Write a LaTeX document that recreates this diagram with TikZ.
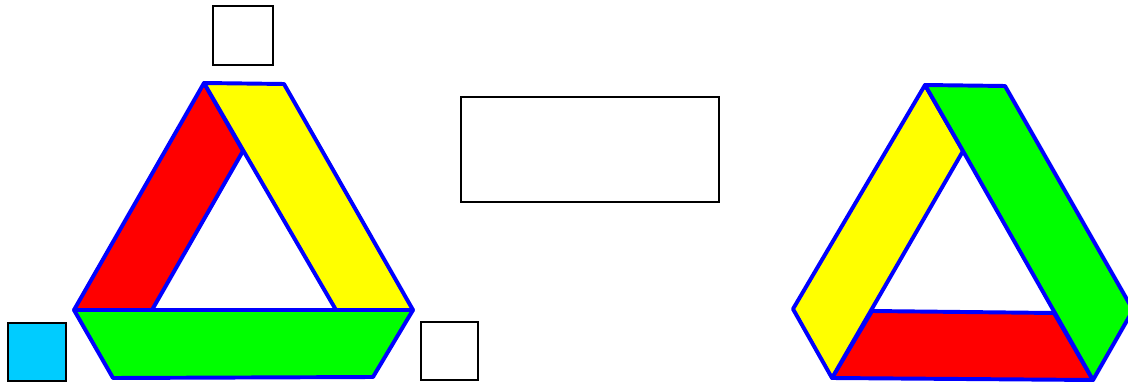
\documentclass[tikz,border=0pt]{standalone}
\usetikzlibrary{math}
\definecolor{rim}{RGB}{0,0,255}
\definecolor{skyfill}{RGB}{0,204,255}
\definecolor{redfill}{RGB}{255,0,0}
\definecolor{yellowfill}{RGB}{255,255,0}
\definecolor{greenfill}{RGB}{0,255,0}
\tikzset{
  band/.style={draw=rim,line width=2.8pt,line join=round},
  box/.style={draw=black,line width=1.4pt,inner sep=0pt}
}
\begin{document}
\begin{tikzpicture}[x=0.025cm,y=-0.025cm]
\useasboundingbox (0,0) rectangle (1128,385);

%left triangle
\coordinate (L1) at (204,83);
\coordinate (L2) at (284,84);
\coordinate (L3) at (413,310);
\coordinate (L4) at (336,310);
\coordinate (L5) at (243,151);
\coordinate (L6) at (152,310);
\coordinate (L7) at (74,310);
\coordinate (L8) at (373,377);
\coordinate (L9) at (113,378);

\filldraw[band,fill=redfill] (L1) -- (L5) -- (L6) -- (L7) -- cycle;
\filldraw[band,fill=yellowfill] (L1) -- (L2) -- (L3) -- (L4) -- cycle;
\filldraw[band,fill=greenfill] (L7) -- (L3) -- (L8) -- (L9) -- cycle;

%right triangle
\coordinate (R1) at (925,85);
\coordinate (R2) at (1005,86);
\coordinate (R3) at (1133,310);
\coordinate (R4) at (1093,380);
\coordinate (R5) at (963,151);
\coordinate (R6) at (1054,313);
\coordinate (R7) at (872,311);
\coordinate (R8) at (832,378);
\coordinate (R9) at (793,309);

\filldraw[band,fill=redfill] (R7) -- (R6) -- (R4) -- (R8) -- cycle;
\filldraw[band,fill=yellowfill] (R1) -- (R5) -- (R8) -- (R9) -- cycle;
\filldraw[band,fill=greenfill] (R1) -- (R2) -- (R3) -- (R4) -- (R5) -- cycle;

%boxes
\node[box,minimum width=1.5cm,minimum height=1.475cm] (topsq) at (243,35.5) {};
\node[box,fill=skyfill,minimum width=1.45cm,minimum height=1.45cm] (cyansq) at (37,352) {};
\node[box,minimum width=1.425cm,minimum height=1.45cm] (rightsq) at (449.5,351) {};
\node[box,minimum width=6.45cm,minimum height=2.625cm] (midbox) at (590,149.5) {};
\end{tikzpicture}
\end{document}
